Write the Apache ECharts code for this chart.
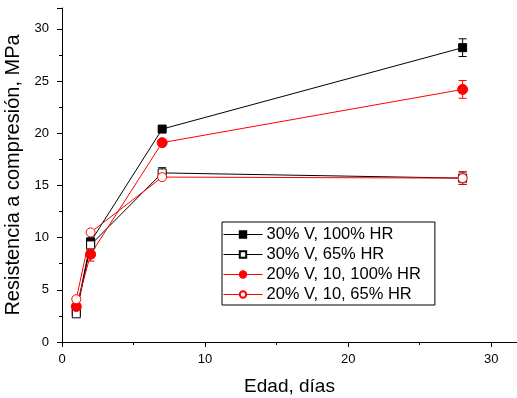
<!DOCTYPE html>
<html>
<head>
<meta charset="utf-8">
<script src="https://cdn.jsdelivr.net/npm/echarts@6/dist/echarts.min.js"></script>
<style>
  html, body { margin: 0; padding: 0; background: #fff; }
  #chart { width: 517px; height: 398px; }
</style>
</head>
<body>
<div id="chart"></div>
<script>
// edad (días)
var ages = [1, 2, 7, 28];

var names = [
  '30% V, 100% HR',
  '30% V, 65% HR',
  '20% V, 10, 100% HR',
  '20% V, 10, 65% HR'
];

// resistencia a compresión (MPa)
var v30_100 = [2.9, 9.6, 20.4, 28.2];
var v30_65 = [2.7, 9.3, 16.2, 15.7];
var v20_100 = [3.4, 8.4, 19.1, 24.2];
var v20_65 = [4.1, 10.5, 15.8, 15.7];

// barras de error (+/-)
var e30_100 = [0, 0, 0, 0.85];
var e30_65 = [0, 0, 0.5, 0.6];
var e20_100 = [0, 0.65, 0, 0.85];
var e20_65 = [0, 0, 0, 0.6];

var yTicks = [0, 5, 10, 15, 20, 25, 30];
var xTicks = [0, 10, 20, 30];

var FONT = 'Liberation Sans, Arial, sans-serif';

function pairs(vals) {
  return ages.map(function (a, i) { return [a, vals[i]]; });
}

function errData(vals, errs) {
  var out = [];
  for (var i = 0; i < ages.length; i++) {
    if (errs[i] > 0) out.push([ages[i], vals[i] - errs[i], vals[i] + errs[i]]);
  }
  return out;
}

function errSeries(vals, errs, color) {
  return {
    type: 'custom',
    silent: true,
    z: 1,
    data: errData(vals, errs),
    encode: { x: 0, y: [1, 2] },
    renderItem: function (params, api) {
      var lo = api.coord([api.value(0), api.value(1)]);
      var hi = api.coord([api.value(0), api.value(2)]);
      var w = 4;
      var st = { stroke: color, lineWidth: 1 };
      return {
        type: 'group',
        children: [
          { type: 'line', shape: { x1: lo[0], y1: lo[1], x2: hi[0], y2: hi[1] }, style: st },
          { type: 'line', shape: { x1: lo[0] - w, y1: lo[1], x2: lo[0] + w, y2: lo[1] }, style: st },
          { type: 'line', shape: { x1: hi[0] - w, y1: hi[1], x2: hi[0] + w, y2: hi[1] }, style: st }
        ]
      };
    }
  };
}

function lineSeries(name, vals, color, symbol, filled, size) {
  return {
    name: name,
    type: 'line',
    data: pairs(vals),
    symbol: symbol,
    symbolSize: size,
    showAllSymbol: true,
    z: 3,
    lineStyle: { color: color, width: 1 },
    itemStyle: {
      color: filled ? color : '#fff',
      borderColor: color,
      borderWidth: 1,
      opacity: 1
    },
    emphasis: { disabled: true }
  };
}

var chart = echarts.init(document.getElementById('chart'), null, { renderer: 'canvas' });

chart.setOption({
  backgroundColor: '#fff',
  animation: false,
  grid: { left: 62, right: 0, top: 8, bottom: 56, outerBoundsMode: 'none', containLabel: false },
  legend: {
    left: 222,
    top: 222,
    orient: 'vertical',
    backgroundColor: '#fff',
    borderColor: '#000',
    borderWidth: 1,
    borderRadius: 0,
    padding: [4, 14, 2, 1],
    itemGap: 3,
    itemWidth: 39,
    itemHeight: 8,
    lineStyle: { width: 1 },
    textStyle: { fontFamily: FONT, fontSize: 16.5, color: '#000', lineHeight: 16, padding: [0, 0, 0, -1] },
    data: names
  },
  xAxis: {
    type: 'value',
    min: 0,
    max: 31.8,
    interval: 10,
    name: 'Edad, días',
    nameLocation: 'middle',
    nameGap: 35,
    nameTextStyle: { fontFamily: FONT, fontSize: 19, color: '#000' },
    axisLine: { show: true, onZero: false, lineStyle: { color: '#000', width: 1 } },
    axisTick: { show: true, inside: false, length: 5, lineStyle: { color: '#000' } },
    minorTick: { show: true, splitNumber: 2, length: 3, lineStyle: { color: '#000' } },
    splitLine: { show: false },
    axisLabel: {
      fontFamily: FONT, fontSize: 13, color: '#000', margin: 11,
      showMaxLabel: false,
      formatter: function (v) { return xTicks.indexOf(v) >= 0 ? String(v) : ''; }
    }
  },
  yAxis: {
    type: 'value',
    min: 0,
    max: 32,
    interval: 5,
    name: 'Resistencia a compresión, MPa',
    nameLocation: 'middle',
    nameGap: 36,
    nameRotate: 90,
    nameTextStyle: { fontFamily: FONT, fontSize: 20, color: '#000' },
    axisLine: { show: true, onZero: false, lineStyle: { color: '#000', width: 1 } },
    axisTick: { show: true, inside: false, length: 5, lineStyle: { color: '#000' } },
    minorTick: { show: true, splitNumber: 2, length: 3, lineStyle: { color: '#000' } },
    splitLine: { show: false },
    axisLabel: {
      fontFamily: FONT, fontSize: 13, color: '#000', margin: 13,
      showMaxLabel: false,
      formatter: function (v) { return yTicks.indexOf(v) >= 0 ? String(v) : ''; }
    }
  },
  series: [
    errSeries(v30_100, e30_100, '#000'),
    errSeries(v30_65, e30_65, '#000'),
    errSeries(v20_100, e20_100, '#ff0000'),
    errSeries(v20_65, e20_65, '#ff0000'),
    lineSeries(names[0], v30_100, '#000', 'rect', true, 8),
    lineSeries(names[1], v30_65, '#000', 'rect', false, 8),
    lineSeries(names[2], v20_100, '#ff0000', 'circle', true, 10),
    lineSeries(names[3], v20_65, '#ff0000', 'circle', false, 9)
  ]
});
</script>
</body>
</html>
